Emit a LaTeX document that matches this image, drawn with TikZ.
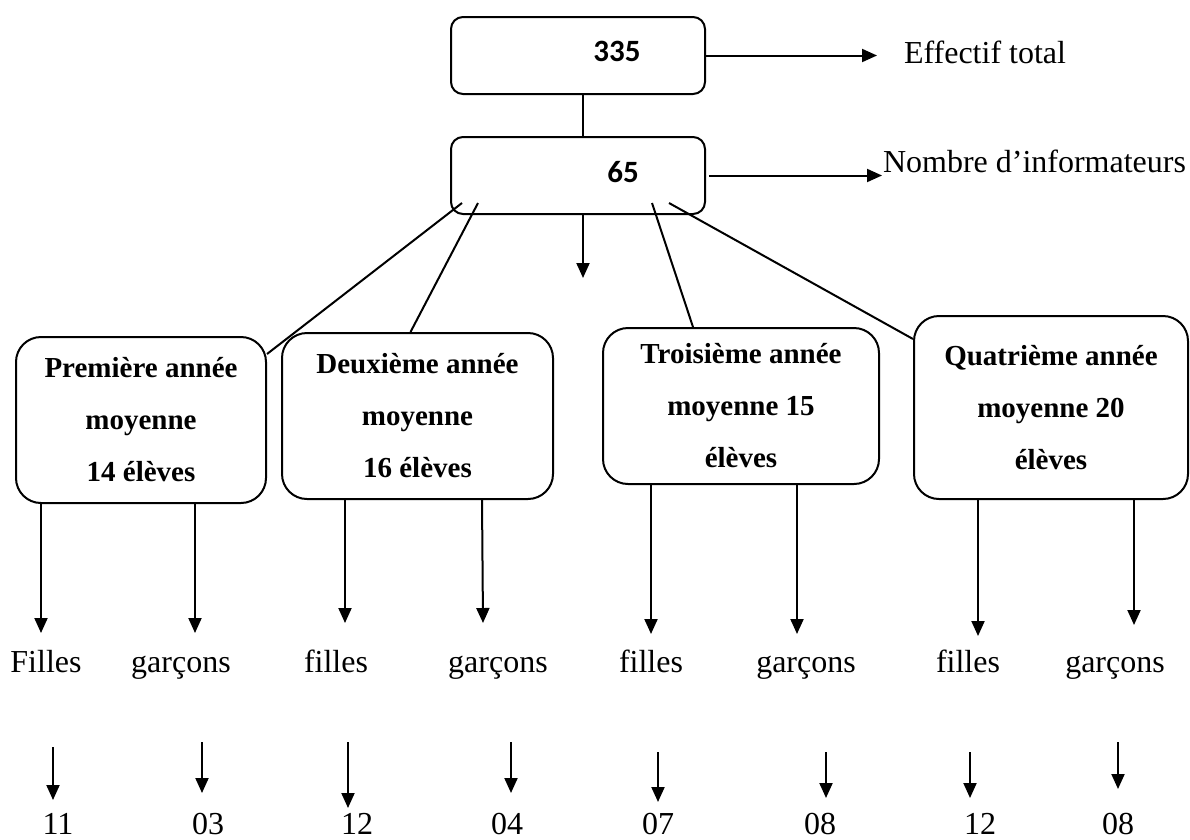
\documentclass[tikz,border=0pt]{standalone}
\usepackage{fontspec}
\setmainfont{Liberation Serif}
\newfontfamily\calibfont{Carlito}
\usetikzlibrary{arrows.meta,calc}
\begin{document}
\begin{tikzpicture}[x=1pt,y=-1pt,line width=2pt,
  topbox/.style={draw,rounded corners=12pt,minimum width=254pt,minimum height=77pt,inner sep=0pt},
  numtxt/.style={font=\calibfont\bfseries\fontsize{31}{37}\selectfont,inner sep=0pt},
  yearbox/.style={draw,rounded corners=25pt,align=center,inner sep=0pt,
    font=\fontsize{29}{52}\selectfont\bfseries},
  arr/.style={-{Triangle[length=15pt,width=13pt]}},
  lab/.style={font=\fontsize{32}{38}\selectfont,anchor=base,inner sep=0pt},
  side/.style={font=\fontsize{32}{38}\selectfont,anchor=base west,inner sep=0pt}]
\useasboundingbox (0,0) rectangle (1190,839);

% top boxes
\node[topbox] (b335) at (578,55.5) {};
\node[numtxt] (t335) at (617,51) {335};
\node[topbox] (b65) at (578,175.5) {};
\node[numtxt] (t65) at (623,172) {65};

\node[side] (eff) at (903,63) {Effectif total};
\node[side] (nom) at (882,172) {Nombre d’informateurs};

\draw[arr,shorten >=26pt] (b335.east) -- (eff.west |- b335.east);
\draw[arr,shorten <=3pt] (b65.east) -- (nom.west |- b65.east);

\draw ([xshift=5pt]b335.south) -- ([xshift=5pt]b65.north);
\coordinate (mid) at (583,278);
\draw[arr] ([xshift=5pt]b65.south) -- (mid);

% year boxes
\node[yearbox,minimum width=250pt,minimum height=166pt] (b1) at (141,420)
  {Première année\\moyenne\\14 élèves};
\node[yearbox,minimum width=271pt,minimum height=166pt] (b2) at (417.5,416)
  {Deuxième année\\moyenne\\16 élèves};
\node[yearbox,minimum width=276pt,minimum height=156pt] (b3) at (741,406)
  {Troisième année\\moyenne 15\\élèves};
\node[yearbox,minimum width=274pt,minimum height=183pt] (b4) at (1051,407.5)
  {Quatrième année\\moyenne 20\\élèves};

\draw ([shift={(12pt,12pt)}]b65.south west) -- ([yshift=-18pt]b1.north east);
\draw ([shift={(28pt,12pt)}]b65.south west) -- ([xshift=-7pt]b2.north);
\draw ([shift={(-54pt,12pt)}]b65.south east) -- ([xshift=-48pt]b3.north);
\draw ([shift={(-37pt,12pt)}]b65.south east) -- ([yshift=-24pt]b4.north west);

% labels
\node[lab] (l1) at (46,672) {Filles};
\node[lab] (l2) at (181,672) {garçons};
\node[lab] (l3) at (336,672) {filles};
\node[lab] (l4) at (498,672) {garçons};
\node[lab] (l5) at (651,672) {filles};
\node[lab] (l6) at (806,672) {garçons};
\node[lab] (l7) at (968,672) {filles};
\node[lab] (l8) at (1115,672) {garçons};

\draw[arr] (b1.south -| 41,0) -- (41,633);
\draw[arr] (b1.south -| 195,0) -- (195,633);
\draw[arr] (b2.south -| 345,0) -- (345,623);
\draw[arr] (b2.south -| 482,0) -- (483,623);
\draw[arr] (b3.south -| 651,0) -- (651,634);
\draw[arr] (b3.south -| 797,0) -- (797,634);
\draw[arr] (b4.south -| 978,0) -- (978,636);
\draw[arr] (b4.south -| 1134,0) -- (1134,625);

% numbers
\node[lab] (n1) at (58,834) {11};
\node[lab] (n2) at (208,834) {03};
\node[lab] (n3) at (357,834) {12};
\node[lab] (n4) at (507,834) {04};
\node[lab] (n5) at (658,834) {07};
\node[lab] (n6) at (820,834) {08};
\node[lab] (n7) at (980,834) {12};
\node[lab] (n8) at (1118,834) {08};

\draw[arr] (53,747) -- (53,800);
\draw[arr] (202,742) -- (202,793);
\draw[arr] (348,742) -- (348,808);
\draw[arr] (511,742) -- (511,793);
\draw[arr] (658,752) -- (658,802);
\draw[arr] (826,752) -- (826,798);
\draw[arr] (970,752) -- (970,798);
\draw[arr] (1118,742) -- (1118,789);
\end{tikzpicture}
\end{document}
